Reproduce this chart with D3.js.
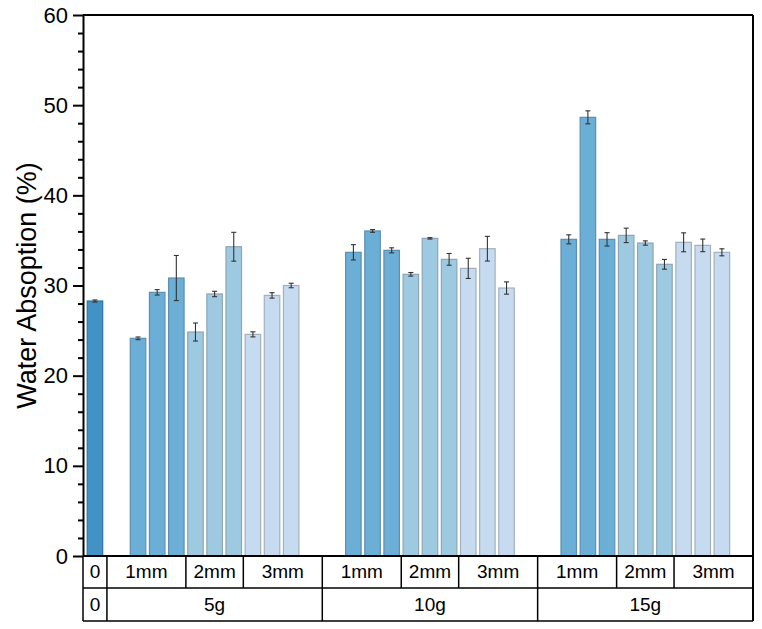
<!DOCTYPE html>
<html>
<head>
<meta charset="utf-8">
<script src="https://cdn.jsdelivr.net/npm/d3@7"></script>
<style>
  body { margin: 0; background: #fff; }
  svg { font-family: "Liberation Sans", Arial, sans-serif; }
</style>
</head>
<body>
<div id="chart"></div>
<script>
// values
const groupLabels = ["5g", "10g", "15g"];
const sizeLabels = ["1mm", "2mm", "3mm"];
const controlLabel = "0";
const controlValue = 28.28, controlErr = 0.12;
const mean5g = [24.14, 29.24, 30.83, 24.84, 29.06, 34.3, 24.58, 28.9, 30.0];
const err5g = [0.15, 0.3, 2.5, 1.0, 0.3, 1.6, 0.28, 0.3, 0.25];
const mean10g = [33.68, 36.05, 33.9, 31.24, 35.23, 32.9, 31.9, 34.08, 29.72];
const err10g = [0.85, 0.15, 0.28, 0.2, 0.08, 0.65, 1.12, 1.37, 0.68];
const mean15g = [35.12, 48.65, 35.12, 35.56, 34.71, 32.35, 34.79, 34.45, 33.68];
const err15g = [0.5, 0.72, 0.74, 0.8, 0.24, 0.54, 1.05, 0.7, 0.39];
const yTicks = [0, 10, 20, 30, 40, 50, 60];

const sizeColor = { "1mm": "#6baed6", "2mm": "#9ecae1", "3mm": "#c6dbef" };
const sizeStroke = { "1mm": "#5d8fb0", "2mm": "#8da6b6", "3mm": "#a3b0bd" };

const W = 762, H = 629;
const m = { left: 83, right: 753, top: 15, bottom: 556 };
const row1 = 588, row2 = 621;

// layout in slot units
const ctrlW = 1.25, groupW = 11.25, pad = 1.625, barW = 0.81;

const svg = d3.select("#chart").append("svg")
  .attr("width", W).attr("height", H);

const x = d3.scaleLinear().domain([0, ctrlW + 3 * groupW]).range([m.left, m.right]);
const y = d3.scaleLinear().domain([0, 60]).range([m.bottom, m.top]);

// build the bar list
let bars = [{ pos: ctrlW / 2, value: controlValue, err: controlErr, size: "ctrl" }];
const means = [mean5g, mean10g, mean15g];
const errs = [err5g, err10g, err15g];
groupLabels.forEach((g, gi) => {
  const start = ctrlW + gi * groupW;
  means[gi].forEach((v, k) => {
    bars.push({ pos: start + pad + k, value: v, err: errs[gi][k], size: sizeLabels[Math.floor(k / 3)] });
  });
});

// bars
svg.selectAll(".bar")
  .data(bars)
  .enter()
  .append("rect")
  .attr("class", "bar")
  .attr("x", d => x(d.pos - barW / 2))
  .attr("width", x(barW) - x(0))
  .attr("y", d => y(d.value))
  .attr("height", d => y(0) - y(d.value))
  .style("fill", d => d.size == "ctrl" ? "#4292c6" : sizeColor[d.size])
  .style("stroke", d => d.size == "ctrl" ? "#2f73a3" : sizeStroke[d.size])
  .style("stroke-width", 1.2);

// error bars
const eb = svg.selectAll(".err").data(bars).enter().append("g").attr("class", "err")
  .style("stroke", "#333").style("stroke-width", 1.1);
eb.append("line")
  .attr("x1", d => x(d.pos)).attr("x2", d => x(d.pos))
  .attr("y1", d => y(d.value - d.err)).attr("y2", d => y(d.value + d.err));
eb.append("line")
  .attr("x1", d => x(d.pos) - 2.5).attr("x2", d => x(d.pos) + 2.5)
  .attr("y1", d => y(d.value - d.err)).attr("y2", d => y(d.value - d.err));
eb.append("line")
  .attr("x1", d => x(d.pos) - 2.5).attr("x2", d => x(d.pos) + 2.5)
  .attr("y1", d => y(d.value + d.err)).attr("y2", d => y(d.value + d.err));

// frame: top and right
svg.append("line").attr("x1", m.left).attr("x2", m.right).attr("y1", m.top).attr("y2", m.top)
  .style("stroke", "#000").style("stroke-width", 2);
svg.append("line").attr("x1", m.right).attr("x2", m.right).attr("y1", m.top).attr("y2", row2)
  .style("stroke", "#000").style("stroke-width", 2);

// y axis
const minor = d3.range(0, 61, 2).filter(v => v % 10 != 0);
const yMinor = svg.append("g").attr("transform", "translate(" + m.left + ",0)")
  .call(d3.axisLeft(y).tickValues(minor).tickSize(5).tickFormat(""));
yMinor.select(".domain").remove();
yMinor.selectAll("line").style("stroke", "#000").style("stroke-width", 2);

const yAxis = svg.append("g").attr("transform", "translate(" + m.left + ",0)")
  .call(d3.axisLeft(y).tickValues(yTicks).tickSize(10).tickSizeOuter(0).tickPadding(5));
yAxis.select(".domain").style("stroke", "#000").style("stroke-width", 2);
yAxis.selectAll("line").style("stroke", "#000").style("stroke-width", 2);
yAxis.selectAll("text").style("font-size", "22px").style("fill", "#000");

// x baseline
svg.append("line").attr("x1", m.left).attr("x2", m.right).attr("y1", m.bottom).attr("y2", m.bottom)
  .style("stroke", "#000").style("stroke-width", 2);

// axis title
svg.append("text")
  .attr("transform", "translate(29," + ((m.top + m.bottom) / 2) + ") rotate(-90)")
  .attr("text-anchor", "middle")
  .attr("dominant-baseline", "middle")
  .style("font-size", "27px")
  .text("Water Absoption (%)");

// category table under the axis
const table = svg.append("g").style("stroke", "#000").style("stroke-width", 1.5);
table.append("line").attr("x1", m.left).attr("x2", m.left).attr("y1", m.bottom).attr("y2", row2);
table.append("line").attr("x1", m.left).attr("x2", m.right).attr("y1", row1).attr("y2", row1);
table.append("line").attr("x1", m.left).attr("x2", m.right).attr("y1", row2).attr("y2", row2);

let cells1 = [{ a: 0, b: ctrlW, label: controlLabel }];
let cells2 = [{ a: 0, b: ctrlW, label: controlLabel }];
groupLabels.forEach((g, gi) => {
  const start = ctrlW + gi * groupW;
  cells2.push({ a: start, b: start + groupW, label: g });
  sizeLabels.forEach((s, si) => {
    const a = si == 0 ? start : start + pad + si * 3 - 0.5;
    const b = si == 2 ? start + groupW : start + pad + (si + 1) * 3 - 0.5;
    cells1.push({ a: a, b: b, label: s });
  });
});

table.selectAll(".d1").data(cells1).enter().append("line")
  .attr("x1", d => x(d.b)).attr("x2", d => x(d.b))
  .attr("y1", m.bottom).attr("y2", row1);
table.selectAll(".d2").data(cells2).enter().append("line")
  .attr("x1", d => x(d.b)).attr("x2", d => x(d.b))
  .attr("y1", row1).attr("y2", row2);

svg.selectAll(".t1").data(cells1).enter().append("text")
  .attr("x", d => x((d.a + d.b) / 2)).attr("y", (m.bottom + row1) / 2 + 1)
  .attr("text-anchor", "middle").attr("dominant-baseline", "middle")
  .style("font-size", "19px")
  .text(d => d.label);
svg.selectAll(".t2").data(cells2).enter().append("text")
  .attr("x", d => x((d.a + d.b) / 2)).attr("y", (row1 + row2) / 2 + 1)
  .attr("text-anchor", "middle").attr("dominant-baseline", "middle")
  .style("font-size", "19px")
  .text(d => d.label);
</script>
</body>
</html>
